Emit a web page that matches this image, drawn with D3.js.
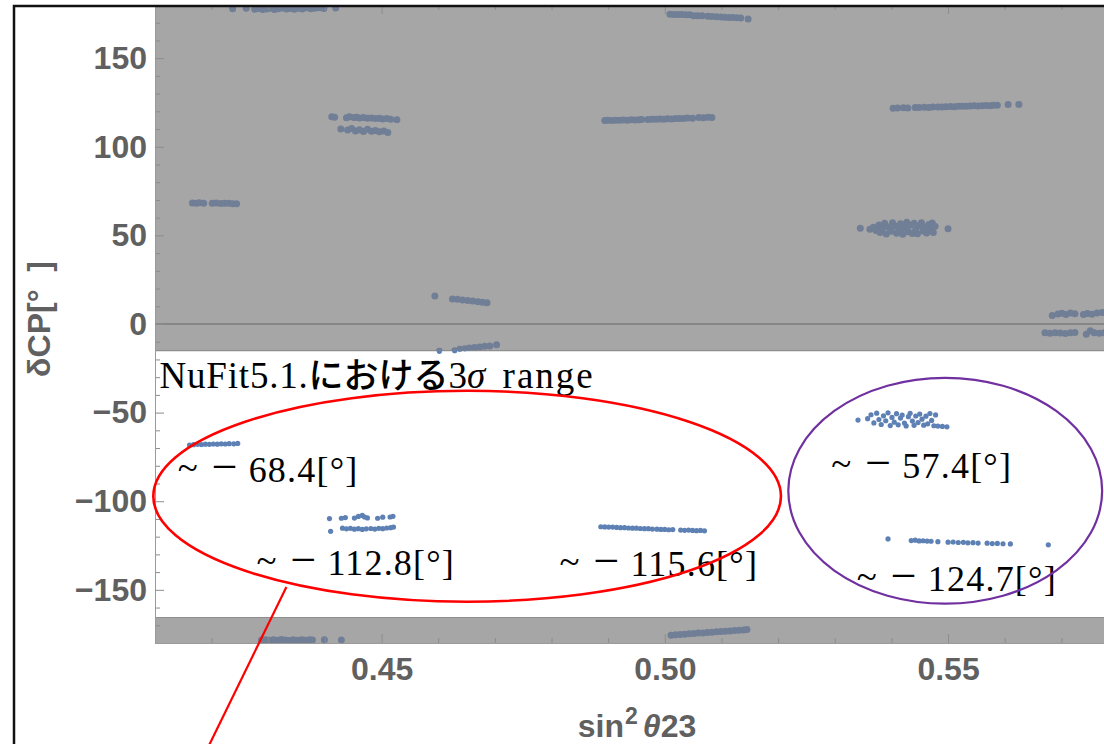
<!DOCTYPE html>
<html>
<head>
<meta charset="utf-8">
<script src="https://cdn.jsdelivr.net/npm/d3@7"></script>
<style>
  body { margin: 0; background: #fff; }
  svg { display: block; }
</style>
</head>
<body>
<svg id="chart"></svg>
<script>
// points are [sin^2 theta23, deltaCP in degrees], grouped by cluster
const c178 = [[0.4237,177.9],[0.4261,178.2],[0.4276,177.6],[0.4283,178.0],[0.4290,177.4],[0.4297,177.8],[0.4304,178.1],[0.4311,177.5],[0.4318,177.9],[0.4325,178.3],[0.4332,177.7],[0.4339,178.0],[0.4346,177.6],[0.4353,178.2],[0.4360,177.8],[0.4367,178.4],[0.4375,177.9],[0.4382,178.1],[0.4390,178.5],[0.4398,178.0],[0.4419,178.3]];
const cM178 = [[0.4288,-178.3],[0.4295,-178.1],[0.4302,-178.4],[0.4309,-178.2],[0.4316,-178.5],[0.4323,-178.0],[0.4330,-178.3],[0.4337,-178.6],[0.4344,-178.2],[0.4352,-178.4],[0.4359,-178.1],[0.4366,-178.5],[0.4373,-178.2],[0.4378,-178.3],[0.4399,-178.2],[0.4429,-178.3]];
const c68 = [[0.4166,68.3],[0.4173,68.2],[0.4178,68.4],[0.4186,68.2],[0.4201,68.1],[0.4208,68.3],[0.4216,68.0],[0.4223,68.2],[0.4230,68.1],[0.4237,67.9],[0.4244,67.8]];
const cM68 = [[0.4161,-68.3],[0.4168,-68.1],[0.4175,-67.9],[0.4182,-68.0],[0.4189,-67.8],[0.4196,-67.9],[0.4203,-67.7],[0.4210,-67.8],[0.4217,-67.6],[0.4224,-67.7],[0.4231,-67.5],[0.4239,-67.6],[0.4246,-67.4]];
const c113 = [[0.4412,116.9],[0.4417,116.6],[0.4438,116.4],[0.4443,117.0],[0.4451,116.5],[0.4456,116.7],[0.4461,116.2],[0.4468,116.5],[0.4475,116.1],[0.4482,116.3],[0.4489,115.9],[0.4496,116.1],[0.4502,115.7],[0.4509,115.9],[0.4516,115.5],[0.4527,115.3],
              [0.4428,110.0],[0.4440,109.4],[0.4447,110.3],[0.4454,108.9],[0.4461,109.6],[0.4468,108.6],[0.4475,109.9],[0.4482,108.8],[0.4489,109.2],[0.4496,108.5],[0.4504,108.9],[0.4511,108.0]];
const cM113 = [[0.4408,-109.8],[0.4429,-109.6],[0.4436,-109.2],[0.4452,-109.5],[0.4459,-108.6],[0.4466,-108.0],[0.4470,-108.9],[0.4475,-109.4],[0.4493,-109.6],[0.4502,-109.0],[0.4515,-108.9],[0.4520,-108.5],
               [0.4410,-117.0],[0.4431,-115.2],[0.4438,-115.6],[0.4445,-115.3],[0.4452,-115.8],[0.4459,-115.5],[0.4466,-115.9],[0.4473,-115.6],[0.4481,-115.4],[0.4488,-115.7],[0.4495,-115.3],[0.4502,-115.5],[0.4509,-115.1],[0.4516,-114.9],[0.4521,-114.6]];
const c14 = [[0.4594,15.8],[0.4625,14.1],[0.4634,13.9],[0.4643,13.6],[0.4652,13.3],[0.4661,13.0],[0.4670,12.6],[0.4678,12.3],[0.4686,12.0]];
const cM14 = [[0.4602,-15.4],[0.4629,-15.1],[0.4638,-14.3],[0.4647,-14.0],[0.4655,-13.6],[0.4664,-13.3],[0.4673,-13.0],[0.4682,-12.6],[0.4691,-12.4],[0.4703,-11.7]];
const c174 = [[0.5009,174.8],[0.5016,174.7],[0.5023,174.7],[0.5030,174.6],[0.5037,174.5],[0.5044,174.5],[0.5051,174.0],[0.5058,174.0],[0.5066,173.9],[0.5076,173.6],[0.5083,173.5],[0.5091,173.4],[0.5099,173.2],[0.5106,173.1],[0.5113,173.0],[0.5120,172.9],[0.5127,172.8],[0.5134,172.7],[0.5147,172.1]];
const cM174 = [[0.5011,-175.6],[0.5019,-175.4],[0.5027,-175.2],[0.5035,-175.0],[0.5043,-174.8],[0.5051,-174.6],[0.5059,-174.4],[0.5067,-174.3],[0.5075,-174.1],[0.5083,-173.9],[0.5091,-173.7],[0.5099,-173.5],[0.5107,-173.3],[0.5115,-173.2],[0.5123,-173.0],[0.5131,-172.8],[0.5139,-172.6],[0.5145,-172.4]];
const c115 = [[0.4894,114.8],[0.4899,114.9],[0.4906,114.8],[0.4913,115.0],[0.4920,114.9],[0.4927,115.1],[0.4934,115.0],[0.4941,115.2],[0.4948,115.1],[0.4955,115.3],[0.4959,115.4],[0.4970,115.4],[0.4977,115.6],[0.4984,115.5],[0.4991,115.7],[0.4998,115.6],[0.5005,115.8],[0.5012,115.7],[0.5019,115.9],[0.5026,116.0],[0.5033,115.9],[0.5040,116.2],[0.5049,116.1],[0.5060,116.5],[0.5068,116.4],[0.5076,116.6],[0.5083,116.5]];
const cM115 = [[0.4887,-114.4],[0.4894,-114.5],[0.4901,-114.6],[0.4908,-114.6],[0.4915,-114.8],[0.4922,-114.9],[0.4929,-114.9],[0.4936,-115.1],[0.4943,-115.2],[0.4950,-115.2],[0.4957,-115.4],[0.4964,-115.5],[0.4971,-115.5],[0.4978,-115.7],[0.4986,-115.8],[0.4993,-115.9],[0.5000,-115.9],[0.5007,-116.1],[0.5014,-116.0],[0.5028,-116.3],[0.5035,-116.4],[0.5042,-116.3],[0.5049,-116.5],[0.5056,-116.6],[0.5063,-116.5],[0.5070,-116.7]];
const c123 = [[0.5403,121.7],[0.5411,121.9],[0.5421,122.0],[0.5429,121.9],[0.5442,122.2],[0.5449,122.1],[0.5458,122.3],[0.5466,122.2],[0.5473,122.4],[0.5482,122.5],[0.5489,122.4],[0.5496,122.6],[0.5504,122.7],[0.5511,122.6],[0.5518,122.8],[0.5525,122.9],[0.5532,122.8],[0.5539,123.0],[0.5546,123.1],[0.5553,123.0],[0.5560,123.2],[0.5567,123.3],[0.5574,123.2],[0.5580,123.4],[0.5587,123.4],[0.5606,123.9],[0.5625,123.9]];
const cM125 = [[0.5394,-121.3],[0.5435,-122.2],[0.5442,-122.0],[0.5449,-122.4],[0.5456,-122.3],[0.5463,-122.5],[0.5470,-122.6],[0.5482,-122.8],[0.5500,-123.1],[0.5509,-123.0],[0.5518,-123.3],[0.5527,-123.2],[0.5535,-123.5],[0.5544,-123.4],[0.5553,-123.6],[0.5569,-123.7],[0.5578,-123.9],[0.5587,-123.8],[0.5597,-124.0],[0.5610,-124.1],[0.5677,-124.6]];
const c54 = [[0.5345,54.0],[0.5362,53.5],[0.5368,54.6],[0.5373,52.8],[0.5378,55.9],[0.5380,51.6],[0.5384,53.9],[0.5388,56.8],[0.5391,50.8],[0.5395,54.7],[0.5399,52.4],[0.5402,57.2],[0.5406,55.3],[0.5409,51.2],[0.5413,53.6],[0.5416,56.5],[0.5420,50.6],[0.5423,54.2],[0.5427,57.4],[0.5430,52.1],[0.5433,55.7],[0.5437,51.0],[0.5440,56.9],[0.5443,53.3],[0.5446,50.9],[0.5450,55.4],[0.5453,57.1],[0.5456,52.5],[0.5459,54.8],[0.5462,51.4],[0.5466,56.2],[0.5469,53.0],[0.5472,57.0],[0.5474,51.7],[0.5477,55.2],[0.5500,53.8]];
const cM57 = [[0.5341,-54.2],[0.5358,-53.4],[0.5364,-51.2],[0.5369,-55.8],[0.5374,-50.3],[0.5378,-53.9],[0.5382,-56.7],[0.5386,-51.8],[0.5390,-54.6],[0.5394,-50.1],[0.5398,-57.3],[0.5401,-52.7],[0.5405,-55.4],[0.5409,-50.6],[0.5412,-56.9],[0.5416,-53.1],[0.5419,-51.4],[0.5423,-55.9],[0.5426,-57.5],[0.5430,-52.3],[0.5433,-50.4],[0.5437,-54.8],[0.5440,-57.2],[0.5443,-51.9],[0.5447,-55.6],[0.5450,-50.8],[0.5454,-53.7],[0.5457,-57.1],[0.5461,-52.0],[0.5464,-56.3],[0.5468,-50.5],[0.5471,-54.4],[0.5475,-57.4],[0.5478,-51.3],[0.5482,-57.6],[0.5490,-57.8],[0.5498,-58.0]];
const c5 = [[0.5684,4.8],[0.5694,5.6],[0.5701,6.0],[0.5708,5.4],[0.5716,6.2],[0.5724,5.8],[0.5739,5.3],[0.5746,5.9],[0.5754,5.5],[0.5763,6.2],[0.5772,6.5],[0.5782,6.3],[0.5791,6.7]];
const cM5 = [[0.5671,-5.0],[0.5680,-5.2],[0.5689,-4.9],[0.5698,-5.1],[0.5707,-5.3],[0.5716,-5.0],[0.5724,-4.8],[0.5744,-5.8],[0.5751,-3.8],[0.5758,-5.0],[0.5767,-5.2],[0.5776,-4.9],[0.5786,-5.1]];

const xDomain = [0.41, 0.58];
const yDomain = [-180, 180];
const xMajor = [0.45, 0.50, 0.55];
const xMinor = [0.41,0.42,0.43,0.44,0.46,0.47,0.48,0.49,0.51,0.52,0.53,0.54,0.56,0.57];
const yMajor = [-150, -100, -50, 0, 50, 100, 150];
const yMinor = [-170,-160,-140,-130,-120,-110,-90,-80,-70,-60,-40,-30,-20,-10,10,20,30,40,60,70,80,90,110,120,130,140,160,170];
const whiteBand = [-165.6, -15.0];   // NuFit5.1 3 sigma range left unshaded

const title = ["NuFit5.1.", "における", "3", "σ", " range"];
const labels = [
  {value: "68.4", s: 0.4140, d: -89.2},
  {value: "112.8", s: 0.4279, d: -141.6},
  {value: "115.6", s: 0.4814, d: -142.2},
  {value: "57.4", s: 0.5294, d: -86.9},
  {value: "124.7", s: 0.5339, d: -150.7}
];
const ellipses = [
  {s: 0.4651, d: -97.2, rs: 0.0554, rd: 59.5, color: "#ff0000", w: 2.6},
  {s: 0.5495, d: -94.1, rs: 0.0277, rd: 63.7, color: "#7030a0", w: 2.2}
];
const pointer = [[0.4332, -148.4], [0.4193, -239.3]];

const W = 1104, H = 744;
const x = d3.scaleLinear().domain(xDomain).range([155, 1118]);
const y = d3.scaleLinear().domain(yDomain).range([643, 5]);

const svg = d3.select("#chart").attr("width", W).attr("height", H);
const defs = svg.append("defs");

const grayBands = [[whiteBand[1], yDomain[1]], [yDomain[0], whiteBand[0]]];
const bandRect = sel => sel
  .attr("x", x(xDomain[0])).attr("width", x(xDomain[1]) - x(xDomain[0]))
  .attr("y", d => y(d[1])).attr("height", d => y(d[0]) - y(d[1]));

defs.append("clipPath").attr("id", "clip-gray")
  .selectAll("rect").data(grayBands).join("rect").call(bandRect);
defs.append("clipPath").attr("id", "clip-white")
  .selectAll("rect").data([whiteBand]).join("rect").call(bandRect);

svg.append("g").selectAll("rect").data(grayBands).join("rect")
  .call(bandRect)
  .attr("fill", "#a6a6a6");

// band edges and the zero line
svg.append("g").selectAll("line").data([whiteBand[1], whiteBand[0]]).join("line")
  .attr("x1", x(xDomain[0])).attr("x2", x(xDomain[1]))
  .attr("y1", d => y(d)).attr("y2", d => y(d))
  .attr("stroke", "#8e8e8e").attr("stroke-width", 1.2);
svg.append("line")
  .attr("x1", x(xDomain[0])).attr("x2", x(xDomain[1]))
  .attr("y1", y(0)).attr("y2", y(0))
  .attr("stroke", "#7b7b7b").attr("stroke-width", 1.5);

const allPoints = [].concat(c178, cM178, c68, cM68, c113, cM113, c14, cM14, c174, cM174,
  c115, cM115, c123, cM125, c54, cM57, c5, cM5);

svg.append("g").attr("clip-path", "url(#clip-gray)")
  .selectAll("circle").data(allPoints).join("circle")
  .attr("cx", d => x(d[0])).attr("cy", d => y(d[1]))
  .attr("r", 3.5).attr("fill", "#707e96");

svg.append("g").attr("clip-path", "url(#clip-white)")
  .selectAll("circle").data(allPoints).join("circle")
  .attr("cx", d => x(d[0])).attr("cy", d => y(d[1]))
  .attr("r", 2.6).attr("fill", "#5e81b5");

// axes
const axisFont = "'Liberation Sans', Arial, sans-serif";
function styleAxis(g) {
  g.select(".domain").attr("stroke", "#9a9a9a");
  g.selectAll(".tick line").attr("stroke", "#8c8c8c");
  g.selectAll("text")
    .attr("font-family", axisFont).attr("font-size", 32)
    .attr("font-weight", "bold").attr("fill", "#606060");
}

svg.append("g").attr("transform", `translate(0,${y(-180)})`)
  .call(d3.axisBottom(x).tickValues(xMinor).tickSize(-5).tickFormat(""))
  .call(styleAxis);
svg.append("g").attr("transform", `translate(0,${y(-180)})`)
  .call(d3.axisBottom(x).tickValues(xMajor).tickSizeInner(-9).tickSizeOuter(0)
    .tickPadding(14).tickFormat(d3.format(".2f")))
  .call(styleAxis);
svg.append("g").attr("transform", `translate(0,${y(180)})`)
  .call(d3.axisTop(x).tickValues(xMinor).tickSize(-5).tickFormat(""))
  .call(styleAxis);
svg.append("g").attr("transform", `translate(0,${y(180)})`)
  .call(d3.axisTop(x).tickValues(xMajor).tickSize(-9).tickFormat(""))
  .call(styleAxis);

svg.append("g").attr("transform", `translate(${x(0.41)},0)`)
  .call(d3.axisLeft(y).tickValues(yMinor).tickSize(-5).tickFormat(""))
  .call(styleAxis);
svg.append("g").attr("transform", `translate(${x(0.41)},0)`)
  .call(d3.axisLeft(y).tickValues(yMajor).tickSizeInner(-9).tickSizeOuter(0)
    .tickPadding(8).tickFormat(d3.format("d")))
  .call(styleAxis);

// axis titles
const xt = svg.append("text")
  .attr("x", 637).attr("y", 737).attr("text-anchor", "middle")
  .attr("font-family", axisFont).attr("font-size", 32)
  .attr("font-weight", "bold").attr("fill", "#606060");
xt.append("tspan").text("sin");
xt.append("tspan").attr("font-size", 23).attr("dy", -13).attr("dx", 1).text("2");
xt.append("tspan").attr("font-style", "italic").attr("dy", 13).attr("dx", 5).text("θ");
xt.append("tspan").text("23");

svg.append("text")
  .attr("transform", "translate(50,319) rotate(-90)")
  .attr("text-anchor", "middle")
  .attr("font-family", axisFont).attr("font-size", 32)
  .attr("font-weight", "bold").attr("fill", "#606060")
  .attr("xml:space", "preserve")
  .text("δCP[°  ]");

// annotations
const serif = "'Liberation Serif', 'Times New Roman', serif";
const tt = svg.append("text")
  .attr("x", x(0.4108)).attr("y", y(-36.1))
  .attr("font-family", serif).attr("font-size", 37).attr("fill", "#000");
tt.append("tspan").attr("letter-spacing", 0.8).text(title[0]);
tt.append("tspan").attr("font-family", "'Noto Sans CJK JP', sans-serif")
  .attr("font-size", 35).attr("font-weight", 500).text(title[1]);
tt.append("tspan").text(title[2]);
tt.append("tspan").attr("font-style", "italic").text(title[3]);
tt.append("tspan").attr("letter-spacing", 2).attr("word-spacing", 6)
  .attr("xml:space", "preserve").text(title[4]);

const lab = svg.append("g").selectAll("text").data(labels).join("text")
  .attr("y", d => y(d.d))
  .attr("font-family", serif).attr("font-size", 36)
  .attr("fill", "#000");
lab.append("tspan").attr("x", d => x(d.s)).attr("font-size", 37).attr("dy", -2).text("~");
lab.append("tspan").attr("x", d => x(d.s) + 34).attr("font-size", 46).attr("dy", 2).text("−");
lab.append("tspan").attr("x", d => x(d.s) + 71).attr("letter-spacing", 1.2).text(d => d.value + "[°]");

svg.append("g").selectAll("ellipse").data(ellipses).join("ellipse")
  .attr("cx", d => x(d.s)).attr("cy", d => y(d.d))
  .attr("rx", d => x(xDomain[0] + d.rs) - x(xDomain[0]))
  .attr("ry", d => y(0) - y(d.rd))
  .attr("fill", "none").attr("stroke", d => d.color).attr("stroke-width", d => d.w);

svg.append("line")
  .attr("x1", x(pointer[0][0])).attr("y1", y(pointer[0][1]))
  .attr("x2", x(pointer[1][0])).attr("y2", y(pointer[1][1]))
  .attr("stroke", "#ff0000").attr("stroke-width", 2.2);

// outer picture border
svg.append("path")
  .attr("d", `M14,${H + 5}V6H${W + 5}`)
  .attr("fill", "none").attr("stroke", "#111").attr("stroke-width", 2.5);
</script>
</body>
</html>
